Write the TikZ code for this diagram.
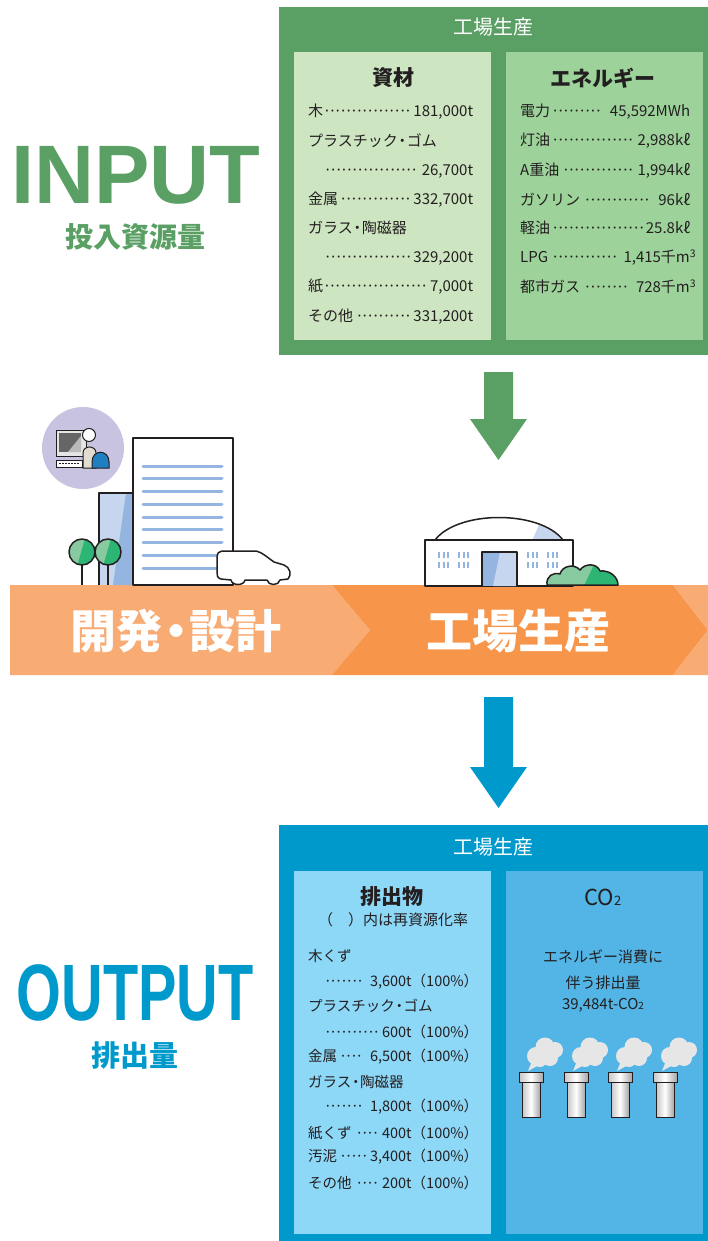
\documentclass[tikz,border=0pt]{standalone}
\usepackage{fontspec}
\setmainfont{Noto Sans CJK JP}
\newfontfamily\headlatin{Liberation Sans}
\usepackage{tikz}
\usetikzlibrary{positioning}

\definecolor{ingreen}{HTML}{5A9F63}
\definecolor{inpale}{HTML}{CDE5C1}
\definecolor{inmid}{HTML}{9DD39B}
\definecolor{outblue}{HTML}{0099CB}
\definecolor{outpale}{HTML}{8DD7F7}
\definecolor{outmid}{HTML}{53B5E6}
\definecolor{bandlight}{HTML}{F8AB73}
\definecolor{banddark}{HTML}{F7954A}
\definecolor{ink}{HTML}{231F20}
\definecolor{winblue}{HTML}{94B5DF}
\definecolor{winpale}{HTML}{C6D6EE}
\definecolor{leafdark}{HTML}{2DB573}
\definecolor{leaflight}{HTML}{87CA9F}
\definecolor{lavender}{HTML}{C7C3E1}
\definecolor{suitblue}{HTML}{1F7FC1}
\definecolor{skin}{HTML}{E0DCCF}
\definecolor{smoke}{HTML}{E6E6E6}

\newcommand\fs[1]{\fontsize{#1}{#1}\selectfont}
\newcommand\leaderdots{\leaders\hbox to 5.4pt{\hss·\hss}\hfill}
\newcommand\itemrow[3]{\hbox to #1pt{#2\leaderdots #3}}
\newcommand\jdot{\makebox[0.6em]{・}}

\begin{document}
\begin{tikzpicture}[x=1pt,y=-1pt]
	\tikzset{
		boxtitle/.style={text=white,font=\fs{20}},
		panelhead/.style={text=ink,font=\fs{21}\bfseries},
		item/.style={anchor=west,inner sep=0pt,text=ink,font=\fs{15}},
		smallitem/.style={item,font=\fs{14.5}},
		note/.style={inner sep=0pt,text=ink,font=\fs{15}},
		outline/.style={draw=ink,line width=1.5pt,line join=round},
		stripe/.style={winblue,line width=3pt,line cap=round},
		bandtext/.style={text=white,font=\fs{46}\bfseries},
	}
	\useasboundingbox (0,0) rectangle (708,1241);

	%% INPUT side
	\node[text=ingreen,font=\headlatin\fs{83}\bfseries,inner sep=0pt] (input) at (136,175) {INPUT};
	\node[text=ingreen,font=\fs{28}\bfseries,inner sep=0pt] (inputjp) at (135,237) {投入資源量};

	\fill[ingreen] (279,7) rectangle (708,355);
	\fill[inpale] (294,52) rectangle (491,340);
	\fill[inmid] (506,52) rectangle (703,340);
	\node[boxtitle] (intitle) at (493,27) {工場生産};
	\node[panelhead] (mathead) at (393,78) {資材};
	\node[panelhead] (enghead) at (603,78) {エネルギー};

	\node[item] (m1) at (308,112) {\itemrow{165}{木}{181,000t}};
	\node[item] (m2) at (308,141) {プラスチック\jdot ゴム};
	\node[item] (m3) at (325,171) {\itemrow{148}{}{26,700t}};
	\node[item] (m4) at (308,200) {\itemrow{165}{金属}{332,700t}};
	\node[item] (m5) at (308,228) {ガラス\jdot 陶磁器};
	\node[item] (m6) at (325,258) {\itemrow{148}{}{329,200t}};
	\node[item] (m7) at (308,287) {\itemrow{165}{紙}{7,000t}};
	\node[item] (m8) at (308,317) {\itemrow{165}{その他 }{331,200t}};

	\node[item] (e1) at (520,112) {\itemrow{170}{電力}{ 45,592MWh}};
	\node[item] (e2) at (520,141) {\itemrow{170}{灯油}{2,988kℓ}};
	\node[item] (e3) at (520,171) {\itemrow{170}{A重油}{1,994kℓ}};
	\node[item] (e4) at (520,200) {\itemrow{170}{ガソリン}{ 96kℓ}};
	\node[item] (e5) at (520,228) {\itemrow{170}{軽油}{25.8kℓ}};
	\node[item] (e6) at (520,258) {\itemrow{176}{LPG}{ 1,415千m\textsuperscript{3}}};
	\node[item] (e7) at (520,287) {\itemrow{176}{都市ガス}{ 728千m\textsuperscript{3}}};

	%% arrow into production
	\fill[ingreen] (484,372) -- (513,372) -- (513,419) -- (527,419) -- (498.5,460)
		-- (470,419) -- (484,419) -- cycle;

	%% process band
	\fill[bandlight] (10,585) -- (332,585) -- (370,630) -- (332,675) -- (10,675) -- cycle;
	\fill[banddark] (332,585) -- (673,585) -- (708,630) -- (673,675) -- (332,675) -- (370,630) -- cycle;
	\fill[bandlight] (673,585) -- (708,585) -- (708,630) -- cycle;
	\fill[bandlight] (673,675) -- (708,675) -- (708,630) -- cycle;
	\node[bandtext] (design) at (176,631) {開発\jdot 設計};
	\node[bandtext] (factory) at (518,631) {工場生産};

	%% designer badge
	\fill[lavender] (83,448) circle[radius=41pt];
	\filldraw[fill=gray!20,draw=ink,line width=1pt] (56,430) rectangle (86,456);
	\fill[gray!80!black] (59,433) rectangle (81,452);
	\fill[gray!55] (68,452) -- (81,436) -- (81,452) -- cycle;
	\filldraw[fill=white,draw=ink,line width=1pt] (56,460) rectangle (82,467);
	\draw[ink,line width=1pt,dash pattern=on 2pt off 1pt] (59,463.5) -- (79,463.5);
	\filldraw[fill=skin,draw=ink,line width=1pt] (83,468) -- (83,453) .. controls (83,445) and (96,445) .. (96,453) -- (96,468) -- cycle;
	\filldraw[fill=white,draw=ink,line width=1pt] (89,435) circle[radius=6.5pt];
	\filldraw[fill=suitblue,draw=ink,line width=1pt] (92,468) -- (92,462) .. controls (92,449) and (109,449) .. (109,462) -- (109,468) -- cycle;

	%% office buildings
	\fill[winpale] (99,493) rectangle (133,585);
	\fill[winblue] (126,493) -- (133,493) -- (133,585) -- (113,585) -- cycle;
	\draw[outline] (99,585) -- (99,493) -- (133,493);
	\filldraw[fill=white,outline,line width=2pt] (133,438) rectangle (233,585);
	\foreach \sy in {466,478.75,...,568}
		\draw[stripe] (143,\sy) -- (222,\sy);

	%% trees
	\foreach \tx in {82,108} {
		\draw[outline] (\tx,565) -- (\tx,585);
		\begin{scope}
			\clip (\tx,552) circle[radius=13pt];
			\fill[leafdark] (\tx-14,538) rectangle (\tx+14,566);
			\fill[leaflight] (\tx-14,538) -- (\tx+3,538) -- (\tx-5,566) -- (\tx-14,566) -- cycle;
		\end{scope}
		\draw[outline] (\tx,552) circle[radius=13pt];
	}

	%% car
	\filldraw[fill=white,outline] (222,551) -- (256,551) .. controls (262,552) and (268,558) .. (274,562)
		-- (284,565) .. controls (290,567) and (292,575) .. (288,579) -- (280,580)
		.. controls (279,586) and (268,586) .. (267,580) -- (245,580)
		.. controls (244,586) and (232,586) .. (231,580) -- (221,579)
		.. controls (217,578) and (217,575) .. (217,572) -- (217,558)
		.. controls (217,553) and (219,551) .. (222,551) -- cycle;

	%% factory
	\begin{scope}
		\clip (435,540) .. controls (458,510) and (540,510) .. (563,540) -- cycle;
		\fill[white] (430,510) rectangle (570,541);
		\fill[winpale] (532,541) -- (541,520) -- (570,520) -- (570,541) -- cycle;
	\end{scope}
	\draw[outline] (435,540) .. controls (458,510) and (540,510) .. (563,540);
	\filldraw[fill=white,outline] (425,540) rectangle (573,586);
	\foreach \wx in {438,458,527,547}
		\foreach \wy in {552,562}
			\foreach \k in {0,4.5,9}
				\fill[winblue] (\wx+\k,\wy) rectangle ++(2,6);
	\fill[winblue] (482,552) rectangle (517,586);
	\fill[winpale] (500,552) -- (517,552) -- (517,586) -- (493,586) -- cycle;
	\draw[outline] (482,586) -- (482,552) -- (517,552) -- (517,586);

	%% bush
	\begin{scope}
		\clip (547,585) .. controls (546,576) and (553,572) .. (560,574)
			.. controls (562,566) and (574,563) .. (580,570)
			.. controls (585,563) and (597,563) .. (600,571)
			.. controls (610,570) and (618,577) .. (618,585) -- cycle;
		\fill[leaflight] (540,560) rectangle (620,586);
		\fill[leafdark] (596,560) -- (620,560) -- (620,586) -- (584,586) -- cycle;
	\end{scope}
	\draw[outline] (547,585) .. controls (546,576) and (553,572) .. (560,574)
		.. controls (562,566) and (574,563) .. (580,570)
		.. controls (585,563) and (597,563) .. (600,571)
		.. controls (610,570) and (618,577) .. (618,585) -- cycle;

	%% arrow out of production
	\fill[outblue] (484,697) -- (513,697) -- (513,767) -- (527,767) -- (498.5,808)
		-- (470,767) -- (484,767) -- cycle;

	%% OUTPUT side
	\node[text=outblue,font=\headlatin\fs{80}\bfseries,inner sep=0pt] (output) at (135,993) {\scalebox{0.72}[1]{OUTPUT}};
	\node[text=outblue,font=\fs{29}\bfseries,inner sep=0pt] (outputjp) at (135,1055) {排出量};

	\fill[outblue] (279,825) rectangle (708,1241);
	\fill[outpale] (294,871) rectangle (491,1234);
	\fill[outmid] (506,871) rectangle (703,1234);
	\node[boxtitle] (outtitle) at (493,847) {工場生産};
	\node[panelhead] (wastehead) at (392,897) {排出物};
	\node[note] (wastenote) at (393,920) {（　）内は再資源化率};
	\node[panelhead,font=\fs{22}] (co2head) at (603,897) {CO{\fs{13}2}};

	\node[smallitem] (w1) at (308,956) {木くず};
	\node[smallitem] (w2) at (325,982) {\itemrow{153}{}{ 3,600t（100\%）}};
	\node[smallitem] (w3) at (308,1006) {プラスチック\jdot ゴム};
	\node[smallitem] (w4) at (325,1032) {\itemrow{153}{}{600t（100\%）}};
	\node[smallitem] (w5) at (308,1057) {\itemrow{170}{金属}{ 6,500t（100\%）}};
	\node[smallitem] (w6) at (308,1082) {ガラス\jdot 陶磁器};
	\node[smallitem] (w7) at (325,1107) {\itemrow{153}{}{ 1,800t（100\%）}};
	\node[smallitem] (w8) at (308,1133) {\itemrow{170}{紙くず}{ 400t（100\%）}};
	\node[smallitem] (w9) at (308,1157) {\itemrow{170}{汚泥}{3,400t（100\%）}};
	\node[smallitem] (w10) at (308,1183) {\itemrow{170}{その他}{200t（100\%）}};

	\node[note] (co2a) at (603,957) {エネルギー消費に};
	\node[note] (co2b) at (603,983) {伴う排出量};
	\node[note] (co2c) at (603,1005) {39,484t-CO{\fs{10}2}};

	%% chimneys with smoke
	\foreach \cx in {519,564,608,653} {
		\fill[smoke] (\cx+17,1056) circle[radius=9pt] (\cx+26,1047) circle[radius=9.5pt]
			(\cx+36,1050) circle[radius=8pt] (\cx+31,1058) circle[radius=8pt]
			(\cx+21,1060) circle[radius=7pt];
		\fill[smoke] (\cx+13,1061) -- (\cx+9,1071) -- (\cx+22,1064) -- cycle;
		\draw[ink,line width=1pt,left color=gray!45,right color=gray!70,middle color=white]
			(\cx+3,1082) rectangle (\cx+21,1117);
		\draw[ink,line width=1pt,left color=gray!45,right color=gray!70,middle color=white]
			(\cx,1072) rectangle (\cx+24,1082);
	}
\end{tikzpicture}
\end{document}
